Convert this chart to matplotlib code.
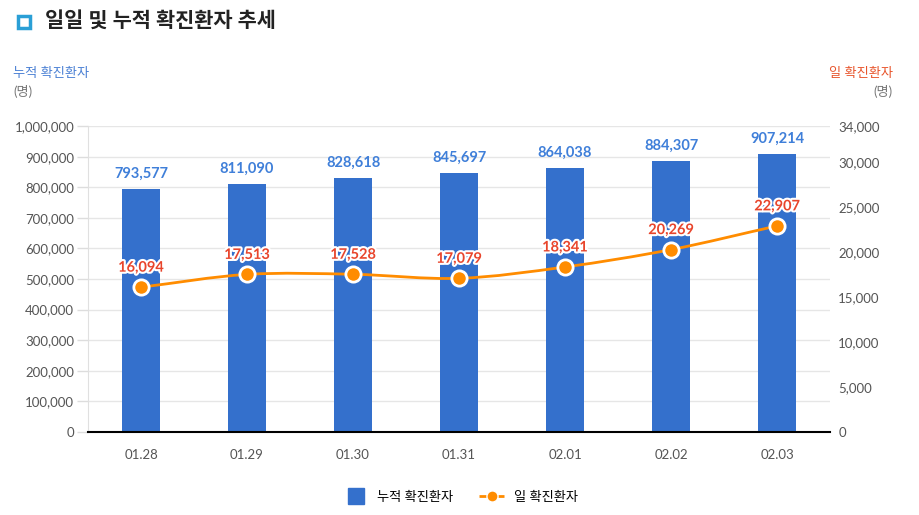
import numpy as np
import matplotlib.pyplot as plt
from matplotlib.path import Path
from matplotlib.patches import PathPatch, Rectangle
from matplotlib.lines import Line2D
import matplotlib.patheffects as pe

plt.rcParams['font.family'] = ['Lato', 'Noto Sans CJK KR', 'DejaVu Sans']

# data
dates = ['01.28', '01.29', '01.30', '01.31', '02.01', '02.02', '02.03']
total_cases = [793577, 811090, 828618, 845697, 864038, 884307, 907214]
daily_cases = [16094, 17513, 17528, 17079, 18341, 20269, 22907]

bar_color = '#3470cc'
line_color = '#ff8c00'
bar_text = '#3f7fd9'
line_text = '#e8452c'
tick_gray = '#555555'

fig = plt.figure(figsize=(9.2, 5.15), dpi=100)
ax = fig.add_axes([0.0957, 0.1612, 0.8065, 0.594])
x = np.arange(len(dates))

ax.bar(x, total_cases, width=0.36, color=bar_color, zorder=2)
ax.set_xlim(-0.5, len(dates) - 0.5)
ax.set_ylim(0, 1000000)
ax.set_yticks(np.arange(0, 1000001, 100000))
ax.set_yticklabels([f'{v:,}' for v in range(0, 1000001, 100000)])
ax.grid(axis='y', color='#e6e6e6', lw=1, zorder=0)
ax.set_xticks(x)
ax.set_xticklabels(dates)
ax.tick_params(axis='x', length=0, pad=12, labelsize=9.5, labelcolor=tick_gray)
ax.tick_params(axis='y', length=8, width=1, color='#dddddd', pad=2, labelsize=9.5, labelcolor=tick_gray)
for s in ['top', 'right']:
    ax.spines[s].set_visible(False)
ax.spines['left'].set_color('#e0e0e0')
ax.spines['bottom'].set_color('black')
ax.spines['bottom'].set_linewidth(1.5)

for xi, v in zip(x, total_cases):
    ax.annotate(f'{v:,}', (xi, v), xytext=(0, 6), textcoords='offset points',
                ha='center', va='bottom', color=bar_text, fontsize=10.5, fontweight='bold')

ax2 = ax.twinx()
ax2.set_ylim(0, 34000)
rticks = list(range(0, 34001, 5000)) + [34000]
ax2.set_yticks(rticks)
ax2.set_yticklabels([f'{v:,}' for v in rticks])
ax2.tick_params(axis='y', length=0, pad=6, labelsize=9.5, labelcolor=tick_gray)
for s in ax2.spines.values():
    s.set_visible(False)

# smooth line through daily points (cubic bezier segments)
y = np.array(daily_cases, dtype=float)
xs = x.astype(float)
m = np.gradient(y, xs)
verts = [(xs[0], y[0])]
codes = [Path.MOVETO]
for i in range(len(xs) - 1):
    h = xs[i + 1] - xs[i]
    verts += [(xs[i] + h / 3, y[i] + m[i] * h / 3),
              (xs[i + 1] - h / 3, y[i + 1] - m[i + 1] * h / 3),
              (xs[i + 1], y[i + 1])]
    codes += [Path.CURVE4] * 3
ax2.add_patch(PathPatch(Path(verts, codes), fill=False, edgecolor=line_color, lw=2, zorder=3))
ax2.plot(x, daily_cases, 'o', ms=11, mfc=line_color, mec='white', mew=2, zorder=4, clip_on=False)
for xi, v in zip(x, daily_cases):
    ax2.annotate(f'{v:,}', (xi, v), xytext=(0, 9), textcoords='offset points',
                 ha='center', va='bottom', color=line_text, fontsize=10.5, fontweight='bold',
                 path_effects=[pe.withStroke(linewidth=3, foreground='white')], zorder=5)

# title and axis labels
fig.patches.append(Rectangle((18 / 920, 1 - 28 / 515), 12 / 920, 12 / 515, transform=fig.transFigure,
                             fill=False, edgecolor='#2a9fd6', lw=2.5))
fig.text(45 / 920, 1 - 21 / 515, '일일 및 누적 확진환자 추세', fontsize=15, fontweight='bold',
         color='#222222', va='center', ha='left')
fig.text(13 / 920, 1 - 73 / 515, '누적 확진환자', fontsize=9.5, color='#4a80d4', va='center')
fig.text(13 / 920, 1 - 92 / 515, '(명)', fontsize=9.5, color='#777777', va='center')
fig.text(893 / 920, 1 - 73 / 515, '일 확진환자', fontsize=9.5, color='#e8552c', va='center', ha='right')
fig.text(893 / 920, 1 - 92 / 515, '(명)', fontsize=9.5, color='#777777', va='center', ha='right')

handles = [Line2D([], [], color=bar_color, marker='s', ms=12, linestyle='none'),
           Line2D([], [], color=line_color, lw=2, marker='o', ms=8, mfc=line_color, mec='white',
                  linestyle='--')]
fig.legend(handles, ['누적 확진환자', '일 확진환자'], loc='center', bbox_to_anchor=(0.5, 1 - 497 / 515),
           ncol=2, frameon=False, fontsize=9.5, handlelength=2.0, columnspacing=2.0,
           handletextpad=0.6)

fig.savefig('out.png', dpi=100)
